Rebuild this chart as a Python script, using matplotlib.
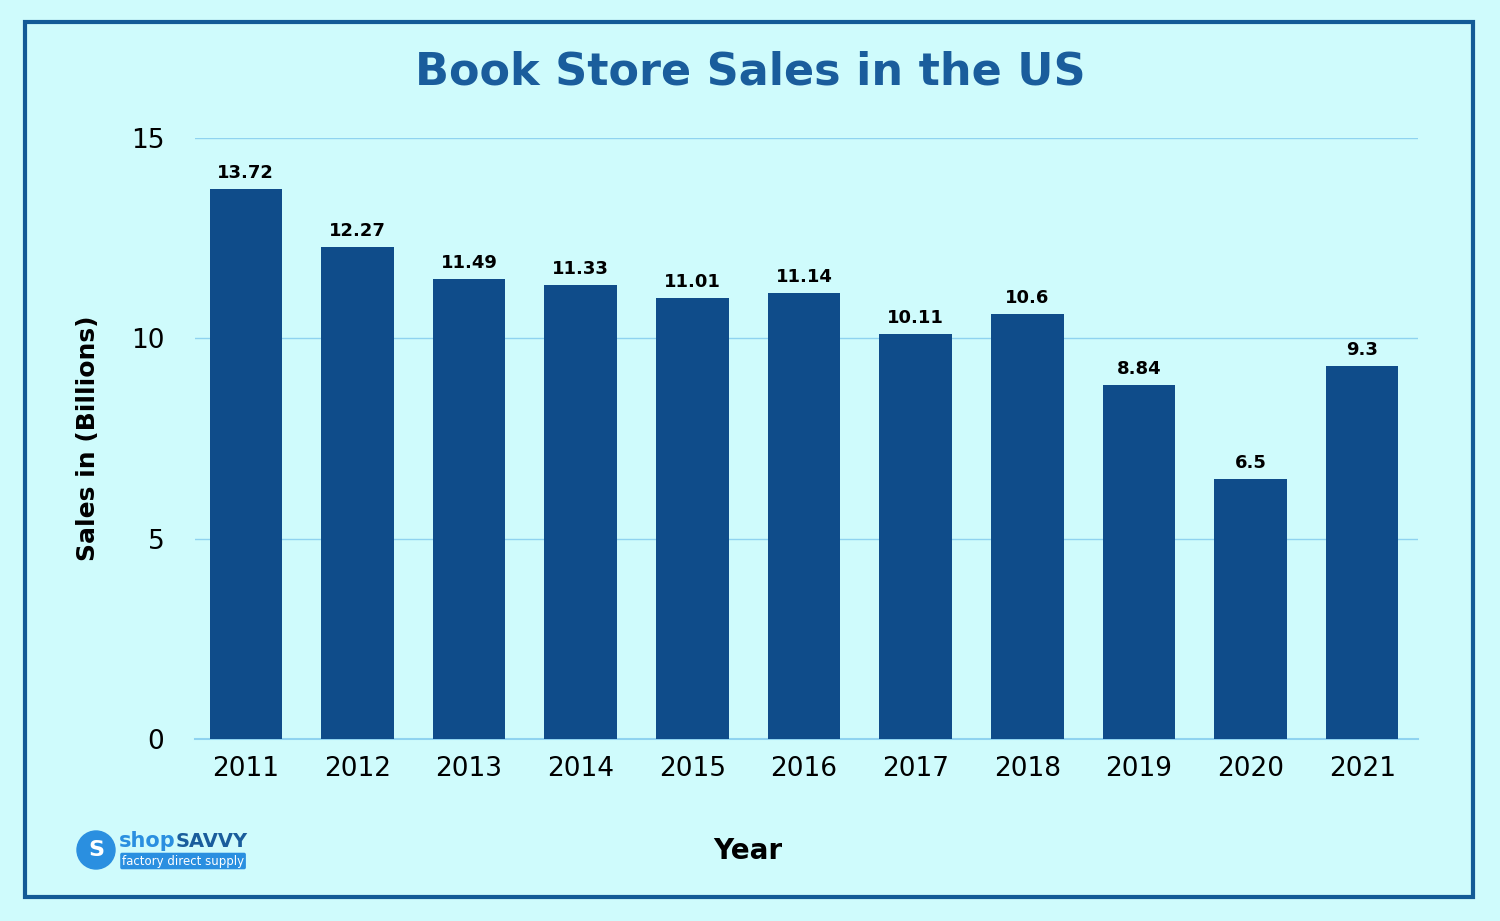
import matplotlib
matplotlib.use("Agg")
import matplotlib.pyplot as plt
from matplotlib.patches import Rectangle, Ellipse

years = ["2011", "2012", "2013", "2014", "2015", "2016", "2017", "2018", "2019", "2020", "2021"]
sales = [13.72, 12.27, 11.49, 11.33, 11.01, 11.14, 10.11, 10.6, 8.84, 6.5, 9.3]
value_labels = ["13.72", "12.27", "11.49", "11.33", "11.01", "11.14", "10.11", "10.6", "8.84", "6.5", "9.3"]
y_ticks = [0, 5, 10, 15]

bg = "#cffbfc"
bar_color = "#0f4c8a"
grid_color = "#8fd3f0"

fig = plt.figure(figsize=(15, 9.21), dpi=100)
fig.patch.set_facecolor(bg)

# outer frame
fig.patches.append(Rectangle((25 / 1500, 1 - 897 / 921), 1448 / 1500, 875 / 921,
                             transform=fig.transFigure, fill=False,
                             edgecolor="#135a96", linewidth=3))

ax = fig.add_axes([195 / 1500, 1 - 739 / 921, 1223 / 1500, 601 / 921])
ax.set_facecolor(bg)
x = range(len(years))
bars = ax.bar(x, sales, width=0.65, color=bar_color, zorder=3)
for rect, lab in zip(bars, value_labels):
    ax.annotate(lab, xy=(rect.get_x() + rect.get_width() / 2, rect.get_height()),
                xytext=(0, 5), textcoords="offset points",
                ha="center", va="bottom", fontsize=13, fontweight="bold")

ax.set_xlim(-0.455, 10.5)
ax.set_ylim(0, 15)
ax.set_yticks(y_ticks)
ax.set_xticks(list(x))
ax.set_xticklabels(years)
ax.tick_params(axis="both", length=0, labelsize=19)
ax.tick_params(axis="x", pad=12)
ax.tick_params(axis="y", pad=22)
ax.yaxis.grid(True, color=grid_color, linewidth=1, zorder=0)
for s in ["top", "right", "left"]:
    ax.spines[s].set_visible(False)
ax.spines["bottom"].set_color(grid_color)
ax.spines["bottom"].set_linewidth(1.5)

ax.set_ylabel("Sales in (Billions)", fontsize=18, fontweight="bold", labelpad=22)
fig.text(748 / 1500, 1 - 851 / 921, "Year", ha="center", va="center",
         fontsize=20, fontweight="bold")

fig.text(750 / 1500, 1 - 72 / 921, "Book Store Sales in the US", ha="center", va="center",
         fontsize=32, fontweight="bold", color="#1a5d9c")

# logo
fig.patches.append(Ellipse((96 / 1500, 1 - 850 / 921), 38 / 1500, 38 / 921,
                           transform=fig.transFigure, color="#2a8fe0"))
fig.text(96 / 1500, 1 - 850 / 921, "S", ha="center", va="center", color="white",
         fontsize=16, fontweight="bold")
fig.text(119 / 1500, 1 - 841 / 921, "shop", ha="left", va="center", color="#2a8fe0",
         fontsize=15, fontweight="bold")
fig.text(176 / 1500, 1 - 841 / 921, "SAVVY", ha="left", va="center", color="#1a5d9c",
         fontsize=14, fontweight="bold")
fig.text(122 / 1500, 1 - 861 / 921, "factory direct supply", ha="left", va="center",
         color="white", fontsize=8.5,
         bbox=dict(boxstyle="round,pad=0.15", fc="#2a8fe0", ec="none"))

fig.savefig("out.png", dpi=100, facecolor=bg)
